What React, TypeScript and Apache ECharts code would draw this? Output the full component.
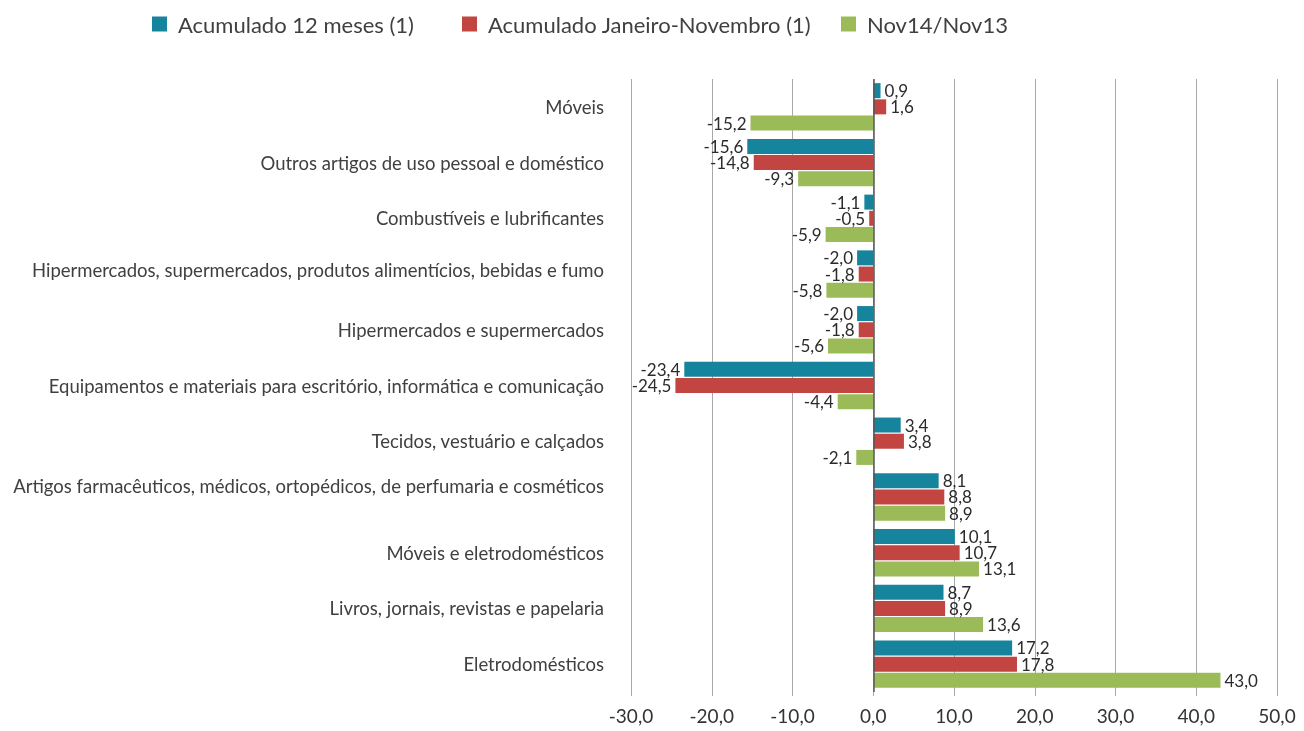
import React, { useEffect, useRef } from "react";
import * as echarts from "echarts";

const categories = [
  "Móveis",
  "Outros artigos de uso pessoal e doméstico",
  "Combustíveis e lubrificantes",
  "Hipermercados, supermercados, produtos alimentícios, bebidas e fumo",
  "Hipermercados e supermercados",
  "Equipamentos e materiais para escritório, informática e comunicação",
  "Tecidos, vestuário e calçados",
  "Artigos farmacêuticos, médicos, ortopédicos, de perfumaria e cosméticos",
  "Móveis e eletrodomésticos",
  "Livros, jornais, revistas e papelaria",
  "Eletrodomésticos",
];

const seriesNames = ["Acumulado 12 meses (1)", "Acumulado Janeiro-Novembro (1)", "Nov14/Nov13"];
const acum12 = [0.9, -15.6, -1.1, -2.0, -2.0, -23.4, 3.4, 8.1, 10.1, 8.7, 17.2];
const acumJanNov = [1.6, -14.8, -0.5, -1.8, -1.8, -24.5, 3.8, 8.8, 10.7, 8.9, 17.8];
const nov14 = [-15.2, -9.3, -5.9, -5.8, -5.6, -4.4, -2.1, 8.9, 13.1, 13.6, 43.0];
const colors = ["#17849D", "#C34541", "#9BBB59"];
const legendLefts = [147, 457, 836];

const FONT = "Lato";
const fmt = (v: number) => v.toFixed(1).replace(".", ",");

export default function App() {
  const ref = useRef<HTMLDivElement>(null);
  useEffect(() => {
    if (!ref.current) return;
    const chart = echarts.init(ref.current, undefined, { renderer: "svg" });
    const all = [acum12, acumJanNov, nov14];
    const series: any[] = all.map((arr, i) => ({
      name: seriesNames[i],
      type: "bar",
      barWidth: 15,
      barGap: "8%",
      itemStyle: { color: colors[i] },
      data: arr.map((v) => ({
        value: v,
        label: { position: v >= 0 ? "right" : "left" },
      })),
      label: {
        show: true,
        distance: 4,
        fontFamily: FONT,
        fontSize: 17,
        color: "#2b2b2b",
        formatter: (p: any) => fmt(p.value),
      },
      ...(i === 0
        ? {
            markLine: {
              silent: true,
              symbol: "none",
              label: { show: false },
              lineStyle: { color: "#595959", width: 1.5, type: "solid" },
              data: [{ xAxis: 0 }],
            },
          }
        : {}),
    }));
    chart.setOption({
      animation: false,
      color: colors,
      legend: seriesNames.map((name, i) => ({
        left: legendLefts[i],
        top: 8,
        icon: "rect",
        itemWidth: 15,
        itemHeight: 15,
        textStyle: { fontFamily: FONT, fontSize: 22, color: "#404040", padding: [0, 0, 0, 6] },
        data: [name],
      })),
      grid: { left: 631, right: 27, top: 79, bottom: 39 },
      xAxis: {
        type: "value",
        min: -30,
        max: 50,
        interval: 10,
        axisLine: { show: false },
        axisTick: { show: true, length: 4, lineStyle: { color: "#a8a8a8" } },
        splitLine: { show: true, lineStyle: { color: "#a8a8a8", width: 1 } },
        axisLabel: {
          fontFamily: FONT,
          fontSize: 19,
          color: "#333333",
          margin: 14,
          formatter: (v: number) => fmt(v),
        },
      },
      yAxis: {
        type: "category",
        data: categories,
        inverse: true,
        axisLine: { show: false },
        axisTick: { show: false },
        axisLabel: {
          fontFamily: FONT,
          fontSize: 18.5,
          lineHeight: 22,
          color: "#404040",
          margin: 27,
          formatter: (v: string, idx: number) =>
            idx === 3 ? v + "\n{s4| }" : idx === 7 ? v + "\n{s11| }" : v,
          rich: {
            s4: { fontSize: 1, lineHeight: 8 },
            s11: { fontSize: 1, lineHeight: 22 },
          },
        },
      },
      series,
    });
    return () => chart.dispose();
  }, []);
  return <div ref={ref} style={{ position: "fixed", left: 0, top: 0, width: 1304, height: 731 }} />;
}
